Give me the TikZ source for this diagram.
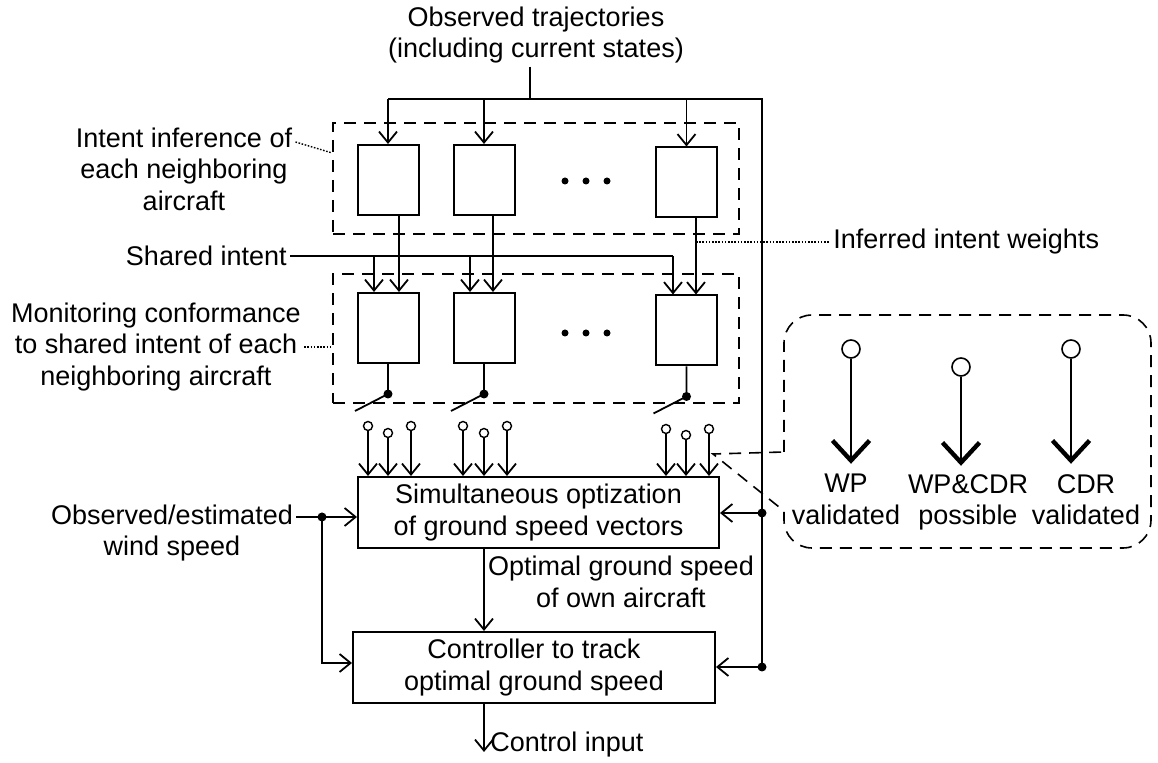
\documentclass[tikz,border=0pt]{standalone}
\usepackage{fontspec}
\setmainfont{Liberation Sans}
\usetikzlibrary{arrows.meta,calc}
\begin{document}
\begin{tikzpicture}[x=0.5pt,y=-0.5pt,
  txt/.style={font=\fontsize{13.5pt}{15.75pt}\selectfont, align=center, inner sep=1.5pt},
  blk/.style={draw, line width=1pt, minimum width=30.5pt, minimum height=35pt, inner sep=0pt},
  bigbox/.style={draw, line width=1pt, inner sep=0pt, txt},
  grp/.style={draw, line width=0.8pt, dash pattern=on 6pt off 4pt, inner sep=0pt},
  wire/.style={line width=0.9pt},
  arr/.style={wire, -{Straight Barb[length=5.5pt,width=9pt]}},
  leader/.style={line width=0.7pt, dash pattern=on 0.8pt off 0.8pt},
  pin/.style={draw, circle, fill=white, line width=0.7pt, minimum size=4.5pt, inner sep=0pt},
  bigpin/.style={draw, circle, fill=white, line width=0.8pt, minimum size=9pt, inner sep=0pt},
  legarr/.style={line width=0.8pt, -{Straight Barb[length=10pt,width=18.5pt,line width=2.2pt]}}
]
\useasboundingbox (0,0) rectangle (1158,763);

% reference columns and bus points
\coordinate (tr) at (530,99);
\coordinate (rt) at (762,99);
\coordinate (rs) at (762,513);
\coordinate (rc) at (762,667);
\coordinate (f1) at (399,0);
\coordinate (f2) at (493,0);
\coordinate (f3) at (696,0);
\coordinate (s1) at (374,0);
\coordinate (s2) at (470,0);
\coordinate (s3) at (673,0);
\coordinate (oa) at (484,0);
\coordinate (la) at (0,142);
\coordinate (lb) at (0,153);

% labels
\node[txt] (title) at (536,35) {Observed trajectories\\(including current states)};
\node[txt] (intent) at (184,169) {Intent inference of\\each neighboring\\aircraft};
\node[txt, anchor=east] (shared) at (290,256) {Shared intent};
\node[txt] (monit) at (156,347) {Monitoring conformance\\to shared intent of each\\neighboring aircraft};
\node[txt, anchor=west] (weights) at (830,242) {Inferred intent weights};
\node[txt] (wind) at (172,533) {Observed/estimated\\wind speed};
\node[txt] (opt) at (621,582) {Optimal ground speed\\of own aircraft};
\node[txt, anchor=west] (cin) at (487,745) {Control input};

% group frames
\node[grp, minimum width=203pt, minimum height=55.5pt] (gA) at (536,178.5) {};
\node[grp, minimum width=203pt, minimum height=64.5pt] (gB) at (536,338.5) {};

% inference and monitoring blocks
\node[blk] (a1) at (388,180) {};
\node[blk] (a2) at (484,180) {};
\node[blk] (a3) at (686.5,182.5) {};
\node[blk] (m1) at (388,328) {};
\node[blk] (m2) at (484,328) {};
\node[blk] (m3) at (686.5,330.5) {};
\foreach \x in {565,586,607} {
  \fill (\x,181) circle (3.5);
  \fill (\x,333) circle (3.5);
}

% optimisation and controller
\node[bigbox, minimum width=180.5pt, minimum height=35.5pt] (sim) at (538.5,512.5) {Simultaneous optization\\of ground speed vectors};
\node[bigbox, minimum width=181pt, minimum height=35.5pt] (ctrl) at (534,667.5) {Controller to track\\optimal ground speed};

% leaders
\draw[leader] (intent.east |- la) -- (gA.west |- lb);
\draw[leader] (monit.east) -- (gB.west |- monit.east);
\draw[leader] (f3 |- weights.west) -- (weights.west);

% observed trajectories bus
\draw[wire] (title.south -| tr) -- (tr);
\draw[wire] (a1.north |- tr) -- (rt) -- (rc);
\foreach \b in {a1,a2,a3} \draw[arr] (\b.north |- tr) -- (\b.north);

% inferred weights
\foreach \i in {1,2,3} \draw[arr] (f\i |- a\i.south) -- (f\i |- m\i.north);

% shared intent
\draw[wire] (shared.east) -- (s3 |- shared.east);
\foreach \i in {1,2,3} \draw[arr] (s\i |- shared.east) -- (s\i |- m\i.north);

% switches
\foreach \i in {1,2,3} {
  \coordinate (k\i) at ($(m\i.south)+(0,30)$);
  \draw[wire] (m\i.south) -- (k\i) -- ++(-33,17);
  \fill (k\i) circle (4.5);
}

% switch contacts
\foreach \n/\x/\y in {p1/368/426, p2/388/433, p3/411/426,
                      p4/463/426, p5/484/433, p6/507/426,
                      p7/666/429, p8/686/435, p9/709/429} {
  \node[pin] (\n) at (\x,\y) {};
  \draw[arr] (\n.south) -- (\n.south |- sim.north);
}

% wind speed
\coordinate (wj) at (322,517);
\coordinate (wc) at (322,663);
\draw[wire] (wind.east |- wj) -- (wj);
\draw[arr] (wj) -- (sim.west |- wj);
\draw[arr] (wj) -- (wc) -- (ctrl.west |- wc);
\fill (wj) circle (4.5);

% own state feedback
\draw[arr] (rs) -- (sim.east |- rs);
\draw[arr] (rc) -- (ctrl.east |- rc);
\fill (rs) circle (4.5);
\fill (rc) circle (4.5);

% optimal ground speed and control input
\coordinate (ce) at (484,752);
\draw[arr] (sim.south -| oa) -- (ctrl.north -| oa);
\draw[arr] (ctrl.south -| oa) -- (ce);

% legend callout
\draw[line width=0.8pt, dash pattern=on 6pt off 4pt]
  (784,452) -- (784,343) .. controls (784,327.5) and (796.5,315) .. (812,315)
  -- (1123,315) .. controls (1138.5,315) and (1151,327.5) .. (1151,343)
  -- (1151,520) .. controls (1151,535.5) and (1138.5,548) .. (1123,548)
  -- (812,548) .. controls (796.5,548) and (784,535.5) .. (784,520)
  -- (784,511) -- (713,454) -- cycle;

\node[bigpin] (v1) at (851,349) {};
\node[bigpin] (v2) at (961,367) {};
\node[bigpin] (v3) at (1071,349) {};
\draw[legarr] (v1.south) -- ++(0,105);
\draw[legarr] (v2.south) -- ++(0,89);
\draw[legarr] (v3.south) -- ++(0,105);
\node[txt, anchor=north] (lw) at (846,471) {WP\\validated};
\node[txt, anchor=north] (lp) at (968,471) {WP\&CDR\\possible};
\node[txt, anchor=north] (lc) at (1086,471) {CDR\\validated};
\end{tikzpicture}
\end{document}
